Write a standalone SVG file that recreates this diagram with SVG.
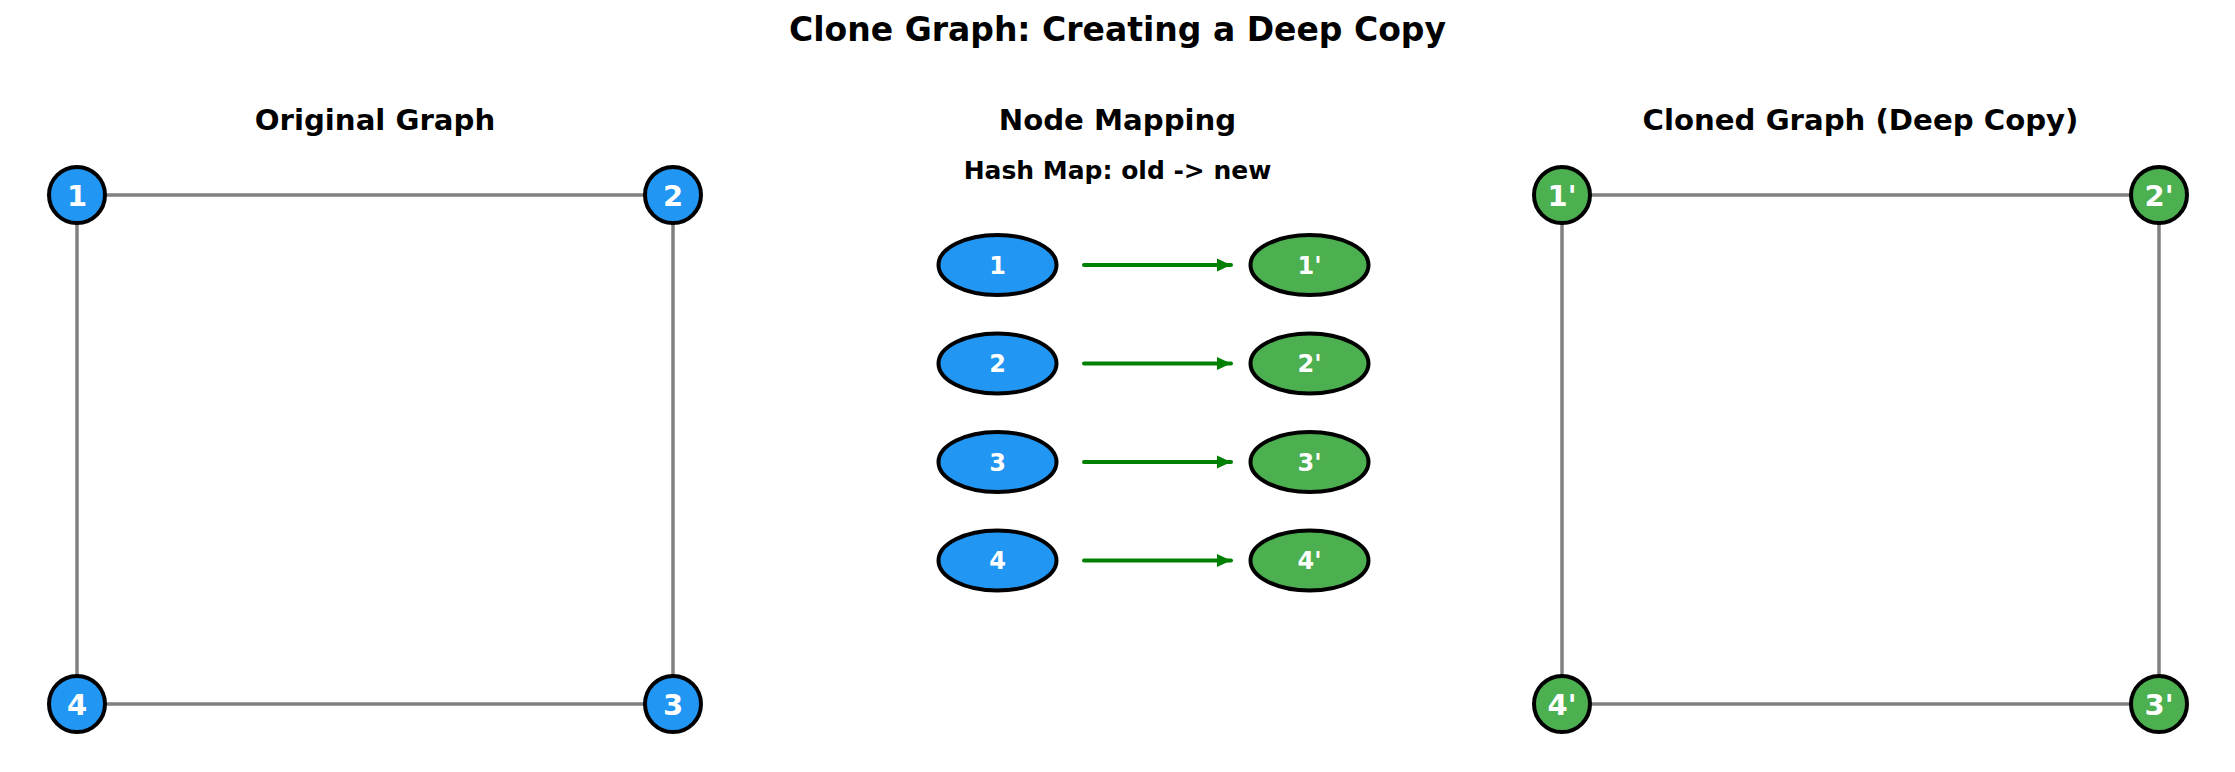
<svg xmlns="http://www.w3.org/2000/svg" width="2235" height="772" viewBox="0 0 2235 772">
<style>
text{font-family:"DejaVu Sans","Liberation Sans",sans-serif;font-weight:bold;text-anchor:middle}
.t{font-size:33px;fill:#000}
.st{font-size:29.2px;fill:#000}
.sub{font-size:25px;fill:#000}
.edge{stroke:#808080;stroke-width:3.5;fill:none}
.map{stroke:#008000;stroke-width:4;fill:none;stroke-linecap:round}
.blue{fill:#2196F3;stroke:#000;stroke-width:4}
.green{fill:#4CAF50;stroke:#000;stroke-width:4}
.nl{font-size:29px;fill:#fff}
.ml{font-size:24px;fill:#fff}
</style>
<defs>
<marker id="ah" markerWidth="15" markerHeight="15" refX="14" refY="7.5" orient="auto" markerUnits="userSpaceOnUse">
<path d="M0,1 L14,7.5 L0,14 Z" fill="#008000"/>
</marker>
</defs>
<rect width="2235" height="772" fill="#fff"/>
<text class="t" x="1117.5" y="41">Clone Graph: Creating a Deep Copy</text>
<text class="st" x="375" y="130">Original Graph</text>
<text class="st" x="1117.5" y="130">Node Mapping</text>
<text class="sub" x="1117.5" y="179">Hash Map: old -&gt; new</text>
<text class="st" x="1860.5" y="130">Cloned Graph (Deep Copy)</text>
<g id="connectors">
<line class="edge" x1="77" y1="195" x2="673" y2="195"/>
<line class="edge" x1="673" y1="195" x2="673" y2="704"/>
<line class="edge" x1="673" y1="704" x2="77" y2="704"/>
<line class="edge" x1="77" y1="704" x2="77" y2="195"/>
<line class="edge" x1="1562" y1="195" x2="2159" y2="195"/>
<line class="edge" x1="2159" y1="195" x2="2159" y2="704"/>
<line class="edge" x1="2159" y1="704" x2="1562" y2="704"/>
<line class="edge" x1="1562" y1="704" x2="1562" y2="195"/>
<line class="map" x1="1084" y1="265" x2="1231" y2="265" marker-end="url(#ah)"/>
<line class="map" x1="1084" y1="363.5" x2="1231" y2="363.5" marker-end="url(#ah)"/>
<line class="map" x1="1084" y1="462" x2="1231" y2="462" marker-end="url(#ah)"/>
<line class="map" x1="1084" y1="560.5" x2="1231" y2="560.5" marker-end="url(#ah)"/>
</g>
<g id="n1"><circle class="blue" cx="77" cy="195" r="28"/><text class="nl" x="77" y="205.5">1</text></g>
<g id="n2"><circle class="blue" cx="673" cy="195" r="28"/><text class="nl" x="673" y="205.5">2</text></g>
<g id="n3"><circle class="blue" cx="673" cy="704" r="28"/><text class="nl" x="673" y="714.5">3</text></g>
<g id="n4"><circle class="blue" cx="77" cy="704" r="28"/><text class="nl" x="77" y="714.5">4</text></g>
<g id="c1"><circle class="green" cx="1562" cy="195" r="28"/><text class="nl" x="1562" y="205.5">1'</text></g>
<g id="c2"><circle class="green" cx="2159" cy="195" r="28"/><text class="nl" x="2159" y="205.5">2'</text></g>
<g id="c3"><circle class="green" cx="2159" cy="704" r="28"/><text class="nl" x="2159" y="714.5">3'</text></g>
<g id="c4"><circle class="green" cx="1562" cy="704" r="28"/><text class="nl" x="1562" y="714.5">4'</text></g>
<g id="m1"><ellipse class="blue" cx="997.5" cy="265" rx="59" ry="30"/><text class="ml" x="997.5" y="273.5">1</text></g>
<g id="m2"><ellipse class="blue" cx="997.5" cy="363.5" rx="59" ry="30"/><text class="ml" x="997.5" y="372">2</text></g>
<g id="m3"><ellipse class="blue" cx="997.5" cy="462" rx="59" ry="30"/><text class="ml" x="997.5" y="470.5">3</text></g>
<g id="m4"><ellipse class="blue" cx="997.5" cy="560.5" rx="59" ry="30"/><text class="ml" x="997.5" y="569">4</text></g>
<g id="mc1"><ellipse class="green" cx="1309.5" cy="265" rx="59" ry="30"/><text class="ml" x="1309.5" y="273.5">1'</text></g>
<g id="mc2"><ellipse class="green" cx="1309.5" cy="363.5" rx="59" ry="30"/><text class="ml" x="1309.5" y="372">2'</text></g>
<g id="mc3"><ellipse class="green" cx="1309.5" cy="462" rx="59" ry="30"/><text class="ml" x="1309.5" y="470.5">3'</text></g>
<g id="mc4"><ellipse class="green" cx="1309.5" cy="560.5" rx="59" ry="30"/><text class="ml" x="1309.5" y="569">4'</text></g>
</svg>
